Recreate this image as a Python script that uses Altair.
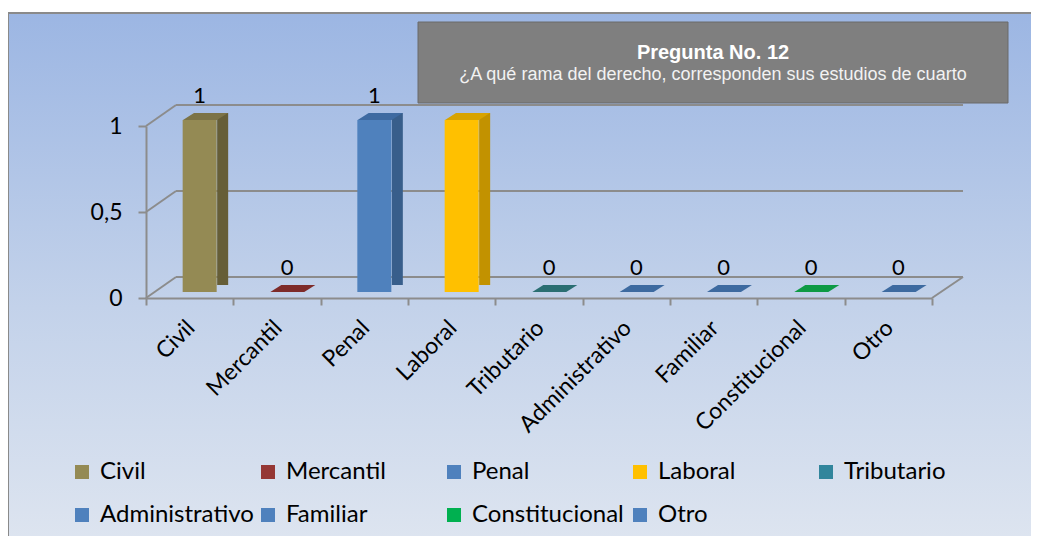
import altair as alt
import pandas as pd

# ---- data ----
cats = ["Civil", "Mercantil", "Penal", "Laboral", "Tributario",
        "Administrativo", "Familiar", "Constitucional", "Otro"]
values = [1, 0, 1, 1, 0, 0, 0, 0, 0]
grid_vals = [0, 0.5, 1]
floor_vals = [0]
y_ticks = [0, 0.5, 1]

title_main = "Pregunta No. 12"
title_sub = "¿A qué rama del derecho, corresponden sus estudios de cuarto"

# ---- styles ----
front_colors = ["#948A54", "#953735", "#4F81BD", "#FFC000", "#31859C",
                "#4F81BD", "#4F81BD", "#00B050", "#4F81BD"]
side_colors = ["#665E37", "#6D2725", "#385E8B", "#C29200", "#215F6F",
               "#385E8B", "#385E8B", "#007A38", "#385E8B"]
top_colors = ["#7C7346", "#7E2B29", "#3E6AA1", "#D8A300", "#2A6E72",
              "#3D6AA0", "#3D6AA0", "#0E9A44", "#3D6AA0"]

FONT = "Lato"
GRAY = "#8C8C8C"
W, H = 786, 172
DX, DY = 30, -21  # 3D depth offset

df = pd.DataFrame({"cat": cats, "value": values})
grid_df = pd.DataFrame({"value": grid_vals})
floor_df = pd.DataFrame({"value": floor_vals})
one = pd.DataFrame({"a": [0]})

yscale = alt.Scale(domain=[0, 1])
xscale = alt.Scale(domain=cats, paddingInner=0, paddingOuter=0)

x_axis = alt.Axis(title=None, labelAngle=-45, labelAlign="right",
                  labelBaseline="middle", labelFontSize=23,
                  labelFont=FONT, labelColor="#000000",
                  tickBand="extent", tickSize=7, tickColor=GRAY,
                  tickWidth=2, domainColor=GRAY, domainWidth=2,
                  labelPadding=19, labelOffset=1, zindex=1)
y_axis = alt.Axis(title=None, values=y_ticks, grid=False,
                  labelExpr="replace(toString(datum.value), '.', ',')",
                  tickSize=8, tickColor=GRAY, tickWidth=2,
                  domainColor=GRAY, domainWidth=2,
                  labelFontSize=23, labelFont=FONT,
                  labelColor="#000000", labelPadding=16, zindex=1)

x_enc = alt.X("cat:N", sort=cats, scale=xscale, axis=x_axis)
y_enc = alt.Y("value:Q", scale=yscale, axis=y_axis)

# background gradient frame
bg = alt.Chart(one).mark_rect(
    fill=alt.LinearGradient(
        gradient="linear",
        stops=[alt.GradientStop(color="#9CB6E3", offset=0),
               alt.GradientStop(color="#C3D2EA", offset=0.55),
               alt.GradientStop(color="#DEE5F0", offset=1)],
        x1=0, x2=0, y1=0, y2=1),
    stroke="#8A8A8A", strokeWidth=2,
).encode(x=alt.value(-138), x2=alt.value(W + 110),
         y=alt.value(-113), y2=alt.value(H + 250))

# back wall gridlines
back = alt.Chart(grid_df).mark_rule(color=GRAY, strokeWidth=2, yOffset=DY).encode(
    x=alt.value(DX), x2=alt.value(W + DX + 1), y=y_enc)
diag = alt.Chart(grid_df).mark_rule(color=GRAY, strokeWidth=2, y2Offset=DY).encode(
    x=alt.value(0), x2=alt.value(DX), y=y_enc, y2="value:Q")
diag_r = alt.Chart(floor_df).mark_rule(color=GRAY, strokeWidth=2, y2Offset=DY).encode(
    x=alt.value(W), x2=alt.value(W + DX + 1), y=y_enc, y2="value:Q")

legend = alt.Legend(orient="none", legendX=-76, legendY=334,
                    columns=5, gridAlign="all",
                    direction="horizontal", title=None,
                    symbolType="square", symbolSize=196,
                    symbolStrokeWidth=0, symbolOpacity=1,
                    labelFontSize=24, labelFont=FONT,
                    labelColor="#000000", labelOffset=6,
                    columnPadding=2, rowPadding=19,
                    labelLimit=300, padding=0)

# side faces
side = alt.Chart(df).mark_bar(size=11, xOffset=33, yOffset=-13).encode(
    x=x_enc, y=y_enc,
    color=alt.Color("cat:N", sort=cats,
                    scale=alt.Scale(domain=cats, range=side_colors), legend=None))

# front faces (with legend)
front = alt.Chart(df).mark_bar(size=34, xOffset=10, yOffset=-6).encode(
    x=x_enc, y=y_enc,
    color=alt.Color("cat:N", sort=cats,
                    scale=alt.Scale(domain=cats, range=front_colors),
                    legend=legend))

# top faces (parallelograms)
para = "M -1 0.16 L 0.51 0.16 L 1 -0.16 L -0.51 -0.16 Z"
top = alt.Chart(df).mark_point(shape=para, size=2025, filled=True, opacity=1,
                               strokeWidth=0, xOffset=15.8, yOffset=-9.5).encode(
    x=x_enc, y=y_enc,
    color=alt.Color("cat:N", sort=cats,
                    scale=alt.Scale(domain=cats, range=top_colors), legend=None))

# value labels
labels = alt.Chart(df).mark_text(fontSize=22, font=FONT, color="#000000",
                                 baseline="middle", xOffset=10, yOffset=-30).encode(
    x=x_enc, y=y_enc, text=alt.Text("value:Q"))

# title box
box = alt.Chart(one).mark_rect(fill="#7F7F7F", stroke="#6A6A6A", strokeWidth=1).encode(
    x=alt.value(272), x2=alt.value(862), y=alt.value(-104), y2=alt.value(-23))
t1 = alt.Chart(one).mark_text(text=title_main, font="Liberation Sans", fontSize=20,
                              fontWeight="bold", color="#FFFFFF").encode(
    x=alt.value(567), y=alt.value(-73))
t2 = alt.Chart(one).mark_text(text=title_sub, font="Liberation Sans", fontSize=18,
                              color="#F2F2F2").encode(
    x=alt.value(567), y=alt.value(-51))

chart = alt.layer(bg, back, diag, diag_r, side, front, top, labels, box, t1, t2).resolve_scale(
    color="independent"
).properties(
    width=W, height=H, autosize="none",
    padding={"left": 138, "top": 118, "right": 99, "bottom": 238},
).configure_view(stroke=None).configure(background="#FFFFFF")

chart.save("out.html", embed_options={"renderer": "svg", "actions": False})
